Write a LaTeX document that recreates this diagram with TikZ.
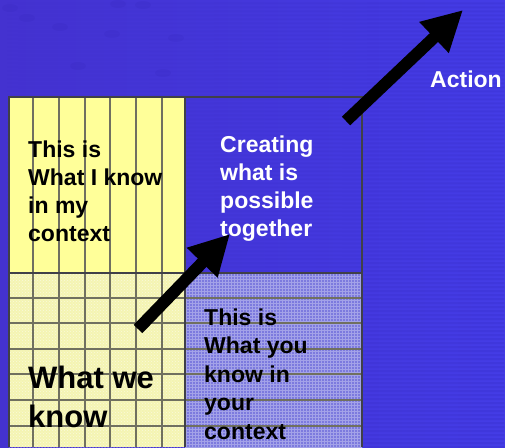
\documentclass[tikz,border=0pt]{standalone}
\usepackage{fontspec}
\setmainfont{Liberation Sans}
\usetikzlibrary{arrows.meta,patterns,fadings}

\definecolor{bgleft}{RGB}{68,50,208}
\definecolor{bgmid}{RGB}{82,72,222}
\definecolor{bgright}{RGB}{68,60,230}
\definecolor{stripe}{RGB}{40,30,170}
\definecolor{knowyellow}{RGB}{255,255,153}
\definecolor{weyellow}{RGB}{244,244,178}
\definecolor{youpurple}{RGB}{124,122,222}
\definecolor{gridgray}{RGB}{112,112,96}
\definecolor{framegray}{RGB}{64,64,72}

\tikzfading[name=stripefade, left color=transparent!100, right color=transparent!30]

\begin{document}
\begin{tikzpicture}[x=1pt,y=-1pt,
    gridline/.style={draw=gridgray, line width=1.3pt},
    frameline/.style={draw=framegray, line width=1.3pt},
    label/.style={anchor=base west, inner sep=0pt, align=left,
      font=\bfseries\fontsize{23}{28}\selectfont},
    bigarrow/.style={line width=12pt, -{Triangle[length=40pt,width=40pt]}}]
  \useasboundingbox (0,0) rectangle (505,447);

  % background with stripes and a few smudges
  \shade[left color=bgleft, middle color=bgmid, right color=bgright]
    (0,0) rectangle (505,447);
  \fill[stripe, opacity=0.22, path fading=stripefade]
    \foreach \y in {2,6,...,446} {(0,\y) rectangle (505,\y+2)};
  \foreach \x/\y in {10/8,27/18,60/27,112/34,118/4,176/38,163/73,143/5,78/66}
    \fill[stripe, opacity=0.1] (\x,\y) ellipse (8 and 4);

  % the four fields
  \fill[knowyellow] (9,97) rectangle (185,273);
  \fill[weyellow] (9,273) rectangle (185,447);
  \fill[pattern=crosshatch dots, pattern color=white!55!weyellow] (9,273) rectangle (185,447);
  \fill[youpurple] (185,273) rectangle (362,447);
  \fill[pattern=grid, pattern color=white!30!youpurple] (185,273) rectangle (362,447);

  % grid
  \foreach \x in {33,59,85,110,136,162}
    \draw[gridline] (\x,97) -- (\x,447);
  \foreach \y in {298,323,349,374,400,426}
    \draw[gridline] (9,\y) -- (362,\y);
  \draw[frameline] (9,447) -- (9,97) -- (362,97) -- (362,447);
  \draw[frameline] (9,273) -- (362,273);
  \draw[frameline] (185,97) -- (185,447);

  % texts (anchored on the baseline of the last line)
  \node[label] (mine) at (28,241) {This is\\What I know\\in my\\context};
  \node[label, white] (together) at (220,236) {Creating\\what is\\possible\\together};
  \node[label, font=\bfseries\fontsize{23}{28.5}\selectfont] (yours) at (204,439)
    {This is\\What you\\know in\\your\\context};
  \node[label, font=\bfseries\fontsize{31}{39}\selectfont] (ours) at (28,427) {What we\\know};
  \node[label, white] (action) at (430,87) {Action};

  % arrows
  \coordinate (grow) at (138,329);
  \coordinate (growtip) at (230,234);
  \draw[bigarrow] (grow) -- (growtip);
  \coordinate (act) at (346,121);
  \coordinate (acttip) at (463,10);
  \draw[bigarrow] (act) -- (acttip);
\end{tikzpicture}
\end{document}
